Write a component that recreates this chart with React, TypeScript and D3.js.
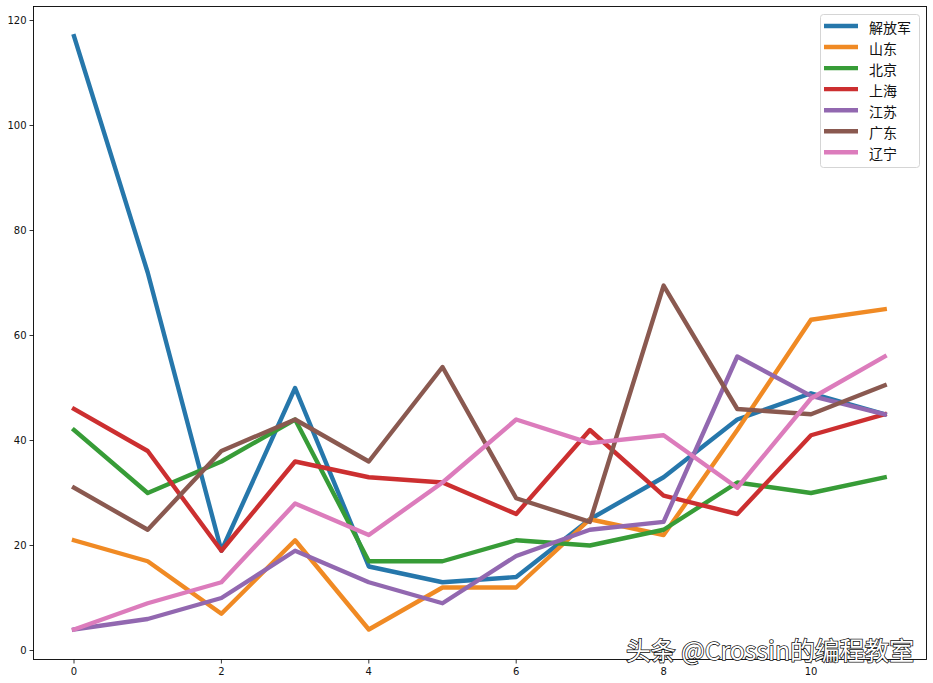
import React, { useEffect, useRef } from "react";
import * as d3 from "d3";

const seriesNames = ["解放军", "山东", "北京", "上海", "江苏", "广东", "辽宁"];
const colors = ["#2677ab", "#f08a24", "#379c37", "#cc2f30", "#9268b0", "#8a5950", "#dc7cbc"];
const jiefangjun = [117, 72, 19, 50, 16, 13, 14, 25, 33, 44, 49, 45];
const shandong = [21, 17, 7, 21, 4, 12, 12, 25, 22, 42, 63, 65];
const beijing = [42, 30, 36, 44, 17, 17, 21, 20, 23, 32, 30, 33];
const shanghai = [46, 38, 19, 36, 33, 32, 26, 42, 29.5, 26, 41, 45];
const jiangsu = [4, 6, 10, 19, 13, 9, 18, 23, 24.5, 56, 48.5, 45];
const guangdong = [31, 23, 38, 44, 36, 54, 29, 24.5, 69.5, 46, 45, 50.5];
const liaoning = [4, 9, 13, 28, 22, 32, 44, 39.5, 41, 31, 48, 56];
const allSeries = [jiefangjun, shandong, beijing, shanghai, jiangsu, guangdong, liaoning];
const xTicks = [0, 2, 4, 6, 8, 10];
const yTicks = [0, 20, 40, 60, 80, 100, 120];
const watermark = "头条 @Crossin的编程教室";

const W = 933, H = 683;
const plot = { left: 33.5, right: 926.5, top: 6.5, bottom: 659.5 };

export default function App() {
  const ref = useRef<SVGSVGElement>(null);
  useEffect(() => {
    const svg = d3.select(ref.current!);
    svg.selectAll("*").remove();
    const x = d3.scaleLinear().domain([0, 10]).range([74, 811]);
    const y = d3.scaleLinear().domain([0, 120]).range([650.5, 20.5]);
    const font = "'DejaVu Sans', sans-serif";
    const cjk = "'Noto Sans CJK SC', 'DejaVu Sans', sans-serif";

    const line = d3.line<number>().x((_, i) => x(i)).y((d) => y(d));
    allSeries.forEach((s, i) => {
      svg.append("path").attr("d", line(s)).attr("fill", "none")
        .attr("stroke", colors[i]).attr("stroke-width", 4.4)
        .attr("stroke-linejoin", "round").attr("stroke-linecap", "square");
    });

    svg.append("rect").attr("x", plot.left).attr("y", plot.top)
      .attr("width", plot.right - plot.left).attr("height", plot.bottom - plot.top)
      .attr("fill", "none").attr("stroke", "#000").attr("stroke-width", 0.9);

    xTicks.forEach((t) => {
      svg.append("line").attr("x1", x(t)).attr("x2", x(t)).attr("y1", plot.bottom).attr("y2", plot.bottom + 4)
        .attr("stroke", "#000").attr("stroke-width", 0.8);
      svg.append("text").attr("x", x(t)).attr("y", plot.bottom + 15).attr("text-anchor", "middle")
        .attr("font-family", font).attr("font-size", 10).attr("fill", "#111").text(t);
    });
    yTicks.forEach((t) => {
      svg.append("line").attr("x1", plot.left - 4).attr("x2", plot.left).attr("y1", y(t)).attr("y2", y(t))
        .attr("stroke", "#000").attr("stroke-width", 0.8);
      svg.append("text").attr("x", plot.left - 7).attr("y", y(t) + 3.5).attr("text-anchor", "end")
        .attr("font-family", font).attr("font-size", 10).attr("fill", "#111").text(t);
    });

    const lg = svg.append("g");
    lg.append("rect").attr("x", 820.5).attr("y", 14.5).attr("width", 99).attr("height", 153).attr("rx", 3)
      .attr("fill", "#fff").attr("fill-opacity", 0.8).attr("stroke", "#d5d5d5").attr("stroke-width", 1);
    seriesNames.forEach((n, i) => {
      const cy = 26 + i * 21.05;
      lg.append("line").attr("x1", 824).attr("x2", 858).attr("y1", cy).attr("y2", cy)
        .attr("stroke", colors[i]).attr("stroke-width", 4.4);
      lg.append("text").attr("x", 869).attr("y", cy + 6.5)
        .attr("font-family", cjk).attr("font-size", 14).attr("fill", "#111").text(n);
    });

    svg.append("text").attr("x", 914).attr("y", 659.5).attr("text-anchor", "end")
      .attr("font-family", cjk).attr("font-size", 24.8)
      .attr("fill", "#fff").attr("stroke", "#111").attr("stroke-width", 1.5)
      .attr("paint-order", "stroke").text(watermark);
  }, []);
  return (
    <svg ref={ref} width={W} height={H} viewBox={`0 0 ${W} ${H}`}
      style={{ position: "absolute", left: 0, top: 0, background: "#fff", display: "block" }} />
  );
}
